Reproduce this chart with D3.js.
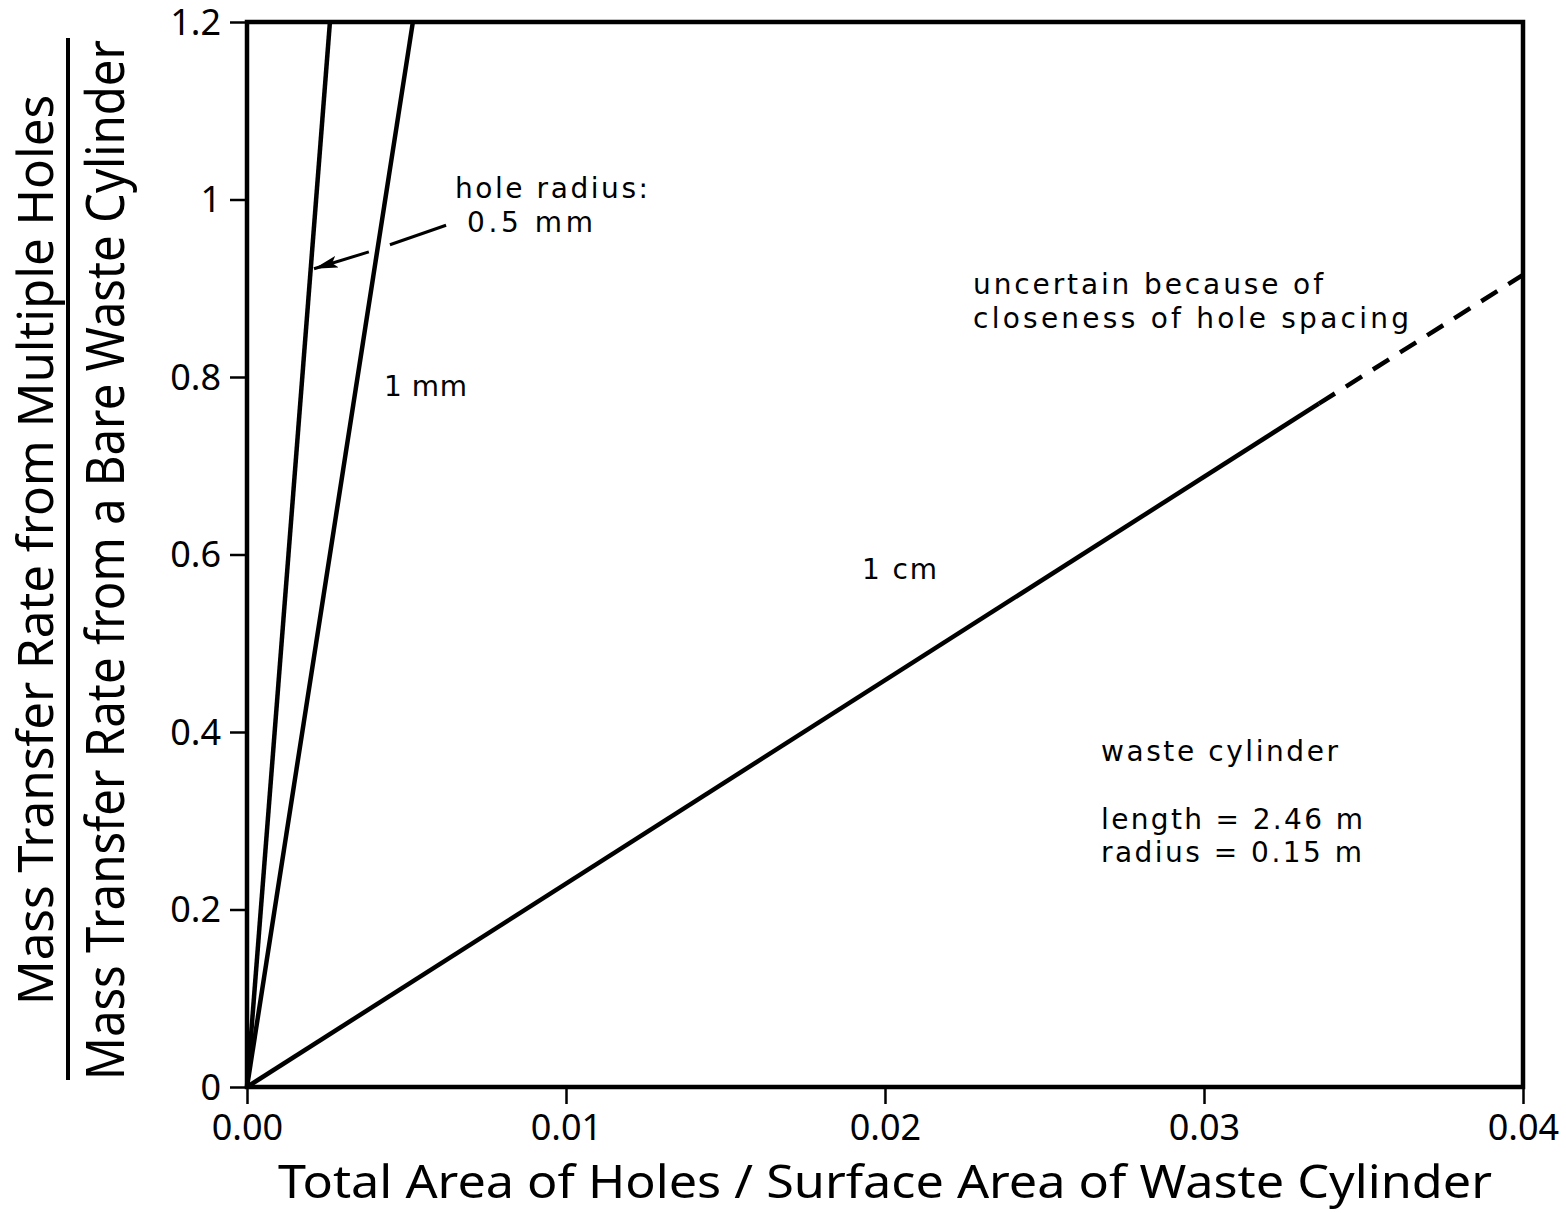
<!DOCTYPE html>
<html>
<head>
<meta charset="utf-8">
<script src="https://cdn.jsdelivr.net/npm/d3@7"></script>
<style>
  body { margin: 0; background: #fff; }
  text { font-family: "Noto Sans", "DejaVu Sans", sans-serif; fill: #000; }
</style>
</head>
<body>
<div id="chart"></div>
<script>
// values
const xTicks = [0, 0.01, 0.02, 0.03, 0.04]
const yTicks = [0, 0.2, 0.4, 0.6, 0.8, 1, 1.2]

const hole05mm = [{ x: 0, y: 0 }, { x: 0.0026, y: 1.2 }]
const hole1mm = [{ x: 0, y: 0 }, { x: 0.0052, y: 1.2 }]
const hole1cm = [{ x: 0, y: 0 }, { x: 0.0336, y: 0.77 }]
const hole1cmUncertain = [{ x: 0.0336, y: 0.77 }, { x: 0.04, y: 0.915 }]

// arrow from "0.5 mm" label to its line (two pieces, broken where it crosses 1 mm)
const arrowPart1 = [{ x: 0.00624, y: 0.971 }, { x: 0.00448, y: 0.949 }]
const arrowPart2 = [{ x: 0.00382, y: 0.941 }, { x: 0.00210, y: 0.922 }]

const margin = { top: 22, right: 43, bottom: 126, left: 247 }
const width = 1566 - margin.left - margin.right
const height = 1213 - margin.top - margin.bottom

const x = d3.scaleLinear().domain([0, 0.04]).range([0, width])
const y = d3.scaleLinear().domain([0, 1.2]).range([height, 0])

const root = d3.select("#chart")
    .append("svg")
    .attr("width", 1566)
    .attr("height", 1213)

const svg = root.append("g")
    .attr("transform", `translate(${margin.left},${margin.top})`)

svg.append("defs").append("marker")
    .attr("id", "head")
    .attr("markerUnits", "userSpaceOnUse")
    .attr("viewBox", "0 0 24 12")
    .attr("refX", 24).attr("refY", 6)
    .attr("markerWidth", 24).attr("markerHeight", 12)
    .attr("orient", "auto")
    .append("path")
    .attr("d", "M0,0 L24,6 L0,12 L5,6 Z")
    .attr("fill", "#000")

// axes (ticks only on left and bottom)
const xAxis = svg.append("g")
    .attr("transform", `translate(0,${height})`)
    .call(d3.axisBottom(x).tickValues(xTicks).tickFormat(d3.format(".2f")).tickSize(17).tickPadding(10))
const yAxis = svg.append("g")
    .call(d3.axisLeft(y).tickValues(yTicks).tickFormat(d3.format("")).tickSize(17).tickPadding(9))

for (const ax of [xAxis, yAxis]) {
    ax.select(".domain").remove()
    ax.selectAll(".tick line").attr("stroke", "#000").attr("stroke-width", 2.5)
    ax.selectAll(".tick text")
        .style("font-family", '"Noto Sans", sans-serif')
        .style("font-size", "36px")
        .attr("fill", "#000")
}
yAxis.selectAll(".tick text").attr("dy", "0.34em")

const line = d3.line()
    .x(d => x(d.x))
    .y(d => y(d.y))

// arrow
svg.append("path").datum(arrowPart1)
    .attr("fill", "none").attr("stroke", "#000").attr("stroke-width", 3)
    .attr("d", line)
svg.append("path").datum(arrowPart2)
    .attr("fill", "none").attr("stroke", "#000").attr("stroke-width", 3)
    .attr("marker-end", "url(#head)")
    .attr("d", line)

svg.append("path").datum(hole1mm)
    .attr("fill", "none").attr("stroke", "#000").attr("stroke-width", 4.5)
    .attr("d", line)
svg.append("path").datum(hole05mm)
    .attr("fill", "none").attr("stroke", "#000").attr("stroke-width", 4.5)
    .attr("d", line)
svg.append("path").datum(hole1cm)
    .attr("fill", "none").attr("stroke", "#000").attr("stroke-width", 4.5)
    .attr("d", line)
svg.append("path").datum(hole1cmUncertain)
    .attr("fill", "none").attr("stroke", "#000").attr("stroke-width", 4.5)
    .attr("stroke-dasharray", "19,13")
    .attr("d", line)

// frame
svg.append("rect")
    .attr("width", width).attr("height", height)
    .attr("fill", "none").attr("stroke", "#000").attr("stroke-width", 4.5)

// annotations: [text, left x, baseline y, width] in page pixels
const notes = [
    ["hole radius:", 455, 198, 193],
    ["0.5 mm", 467, 232, 126],
    ["1 mm", 384, 396, 83],
    ["1 cm", 862, 579, 75],
    ["uncertain because of", 973, 294, 350],
    ["closeness of hole spacing", 973, 328, 436],
    ["waste cylinder", 1101, 761, 237],
    ["length = 2.46 m", 1101, 829, 262],
    ["radius = 0.15 m", 1101, 862, 261]
]
root.append("g").selectAll("text")
    .data(notes)
    .enter().append("text")
    .attr("x", d => d[1])
    .attr("y", d => d[2])
    .attr("textLength", d => d[3])
    .attr("lengthAdjust", "spacing")
    .style("font-size", "28px")
    .style("font-family", '"DejaVu Sans", sans-serif')
    .text(d => d[0])

// axis titles
root.append("text")
    .attr("x", 278).attr("y", 1198)
    .attr("textLength", 1214)
    .attr("lengthAdjust", "spacingAndGlyphs")
    .style("font-size", "46px")
    .text("Total Area of Holes / Surface Area of Waste Cylinder")

root.append("text")
    .attr("transform", "translate(53,550) rotate(-90)")
    .attr("text-anchor", "middle")
    .attr("textLength", 910)
    .attr("lengthAdjust", "spacingAndGlyphs")
    .style("font-size", "50px")
    .text("Mass Transfer Rate from Multiple Holes")

root.append("line")
    .attr("x1", 68).attr("x2", 68)
    .attr("y1", 38).attr("y2", 1080)
    .attr("stroke", "#000").attr("stroke-width", 4)

root.append("text")
    .attr("transform", "translate(124,560) rotate(-90)")
    .attr("text-anchor", "middle")
    .attr("textLength", 1040)
    .attr("lengthAdjust", "spacingAndGlyphs")
    .style("font-size", "52px")
    .text("Mass Transfer Rate from a Bare Waste Cylinder")
</script>
</body>
</html>
